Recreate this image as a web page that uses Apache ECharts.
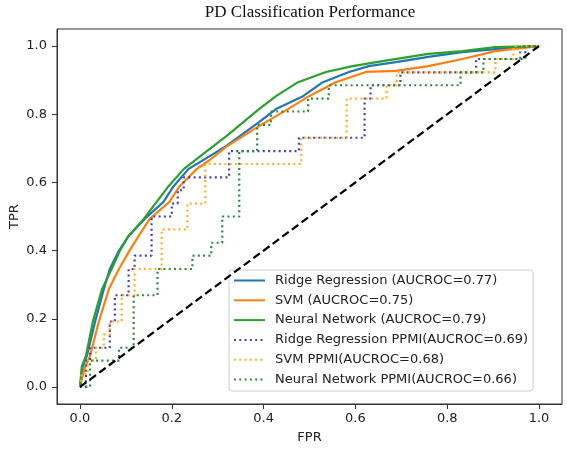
<!DOCTYPE html>
<html>
<head>
<meta charset="utf-8">
<script src="https://cdn.jsdelivr.net/npm/echarts@6/dist/echarts.min.js"></script>
<style>
  html, body { margin: 0; padding: 0; background: #fff; }
  #roc { width: 567px; height: 450px; }
</style>
</head>
<body>
<div id="roc"></div>
<script>
// ROC points, [FPR, TPR]
const ridge = [[0, 0], [0.006, 0.06], [0.015, 0.091], [0.033, 0.191], [0.052, 0.287], [0.065, 0.346], [0.085, 0.4], [0.106, 0.443], [0.141, 0.493], [0.182, 0.543], [0.204, 0.589], [0.236, 0.639], [0.28, 0.675], [0.319, 0.707], [0.39, 0.777], [0.427, 0.815], [0.486, 0.853], [0.529, 0.894], [0.586, 0.924], [0.629, 0.941], [0.688, 0.953], [0.759, 0.968], [0.833, 0.982], [0.905, 0.991], [1, 1]]
const svm = [[0, 0], [0.009, 0.05], [0.022, 0.091], [0.041, 0.191], [0.063, 0.287], [0.085, 0.346], [0.108, 0.4], [0.128, 0.443], [0.152, 0.493], [0.195, 0.543], [0.217, 0.589], [0.254, 0.639], [0.282, 0.665], [0.319, 0.705], [0.39, 0.765], [0.453, 0.815], [0.499, 0.853], [0.557, 0.894], [0.623, 0.924], [0.688, 0.927], [0.759, 0.941], [0.833, 0.962], [0.905, 0.985], [1, 1]]
const neural = [[0, 0], [0.004, 0.06], [0.013, 0.091], [0.028, 0.191], [0.048, 0.287], [0.069, 0.346], [0.087, 0.4], [0.106, 0.443], [0.139, 0.493], [0.167, 0.543], [0.193, 0.589], [0.226, 0.639], [0.27, 0.685], [0.319, 0.736], [0.39, 0.815], [0.427, 0.853], [0.475, 0.894], [0.536, 0.924], [0.594, 0.941], [0.659, 0.956], [0.759, 0.977], [0.833, 0.985], [0.905, 0.997], [1, 1]]
const ridgePpmi = [[0, 0], [0.013, 0], [0.013, 0.077], [0.022, 0.077], [0.022, 0.115], [0.065, 0.115], [0.065, 0.192], [0.076, 0.192], [0.076, 0.269], [0.106, 0.269], [0.106, 0.346], [0.119, 0.346], [0.119, 0.385], [0.156, 0.385], [0.156, 0.5], [0.2, 0.5], [0.2, 0.538], [0.213, 0.538], [0.213, 0.577], [0.226, 0.577], [0.226, 0.615], [0.325, 0.615], [0.325, 0.692], [0.477, 0.692], [0.477, 0.731], [0.62, 0.731], [0.62, 0.846], [0.633, 0.846], [0.633, 0.885], [0.698, 0.885], [0.698, 0.923], [0.863, 0.923], [0.863, 0.962], [0.97, 0.962], [0.97, 1], [1, 1]]
const svmPpmi = [[0, 0], [0.004, 0], [0.004, 0.038], [0.017, 0.038], [0.017, 0.077], [0.035, 0.077], [0.035, 0.115], [0.052, 0.115], [0.052, 0.154], [0.065, 0.154], [0.065, 0.192], [0.091, 0.192], [0.091, 0.269], [0.119, 0.269], [0.119, 0.346], [0.178, 0.346], [0.178, 0.462], [0.234, 0.462], [0.234, 0.538], [0.273, 0.538], [0.273, 0.654], [0.482, 0.654], [0.482, 0.731], [0.581, 0.731], [0.581, 0.846], [0.668, 0.846], [0.668, 0.885], [0.69, 0.885], [0.69, 0.923], [0.905, 0.923], [0.905, 0.962], [0.944, 0.962], [0.944, 1], [1, 1]]
const neuralPpmi = [[0, 0], [0.022, 0], [0.022, 0.077], [0.085, 0.077], [0.085, 0.115], [0.117, 0.115], [0.117, 0.269], [0.169, 0.269], [0.169, 0.346], [0.245, 0.346], [0.245, 0.385], [0.286, 0.385], [0.286, 0.423], [0.31, 0.423], [0.31, 0.5], [0.347, 0.5], [0.347, 0.692], [0.386, 0.692], [0.386, 0.769], [0.416, 0.769], [0.416, 0.808], [0.497, 0.808], [0.497, 0.846], [0.542, 0.846], [0.542, 0.885], [0.829, 0.885], [0.829, 0.923], [0.879, 0.923], [0.879, 0.962], [0.959, 0.962], [0.959, 1], [1, 1]]
const chance = [[0, 0], [1, 1]]

const names = [
  'Ridge Regression (AUCROC=0.77)',
  'SVM (AUCROC=0.75)',
  'Neural Network (AUCROC=0.79)',
  'Ridge Regression PPMI(AUCROC=0.69)',
  'SVM PPMI(AUCROC=0.68)',
  'Neural Network PPMI(AUCROC=0.66)'
]
const ticks = [0, 0.2, 0.4, 0.6, 0.8, 1.0]

const curves = [ridge, svm, neural, ridgePpmi, svmPpmi, neuralPpmi]
const colors = ['#1f77b4', '#ff7f0e', '#2ca02c', '#4141bd', '#ffb020', '#2a8a3c']

const txt = '#222'
const font = 'DejaVu Sans'

function axis (name) {
  return {
    type: 'value',
    min: -0.05,
    max: 1.05,
    name: name,
    nameLocation: 'middle',
    nameMoveOverlap: false,
    nameTextStyle: { color: txt, fontFamily: font, fontSize: 13 },
    axisLine: { show: true, onZero: false, lineStyle: { color: '#333', width: 1 } },
    splitLine: { show: false },
    axisTick: {
      show: true,
      inside: false,
      length: 5,
      customValues: ticks,
      lineStyle: { color: '#333', width: 1 }
    },
    axisLabel: {
      customValues: ticks,
      color: txt,
      fontFamily: font,
      fontSize: 13,
      formatter: v => v.toFixed(1)
    }
  }
}

const xAxis = axis('FPR')
xAxis.nameGap = 27
xAxis.axisLabel.margin = 8
const yAxis = axis('TPR')
yAxis.nameGap = 36
yAxis.axisLabel.margin = 10

const series = curves.map((d, i) => ({
  name: names[i],
  type: 'line',
  data: d,
  showSymbol: false,
  symbol: 'none',
  z: 2 + i,
  lineStyle: {
    color: colors[i],
    width: 2.2,
    type: i < 3 ? 'solid' : [2, 3.3]
  },
  itemStyle: { color: colors[i] }
}))
series.push({
  type: 'line',
  data: chance,
  showSymbol: false,
  symbol: 'none',
  z: 10,
  lineStyle: { color: '#000', width: 2.2, type: [8, 4] }
})

const option = {
  backgroundColor: '#fff',
  animation: false,
  title: {
    text: 'PD Classification Performance',
    left: 310,
    top: 4,
    padding: 0,
    textAlign: 'center',
    textStyle: { fontFamily: 'Liberation Serif', fontWeight: 'normal', fontSize: 17, color: '#111' }
  },
  grid: {
    left: 57,
    right: 5,
    top: 29,
    bottom: 46,
    show: true,
    borderColor: '#333',
    borderWidth: 1,
    containLabel: false,
    outerBoundsMode: 'none'
  },
  legend: {
    data: names,
    orient: 'vertical',
    left: 229,
    top: 270,
    padding: [4, 5, 5, 4],
    itemWidth: 31,
    itemHeight: 14,
    itemGap: 6.8,
    itemStyle: { opacity: 0 },
    backgroundColor: 'rgba(255,255,255,0.85)',
    borderColor: '#ccc',
    borderWidth: 1,
    borderRadius: 3,
    textStyle: { color: txt, fontFamily: font, fontSize: 13, padding: [0, 0, 0, 5] }
  },
  xAxis: xAxis,
  yAxis: yAxis,
  series: series
}

const chart = echarts.init(document.getElementById('roc'))
chart.setOption(option)
</script>
</body>
</html>
